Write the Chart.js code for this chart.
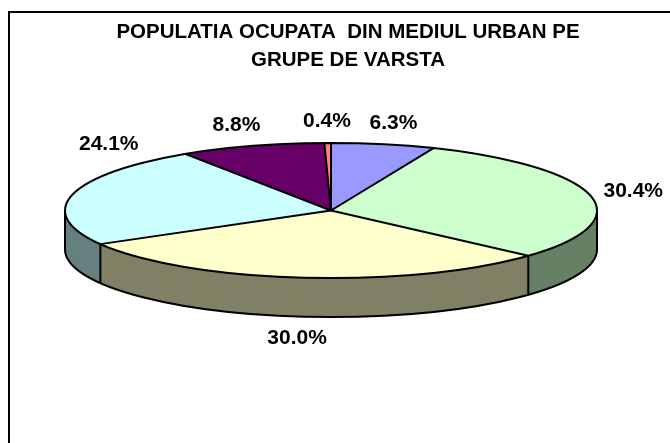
<!DOCTYPE html>
<html>
<head>
<meta charset="utf-8">
<script src="https://cdn.jsdelivr.net/npm/chart.js@4/dist/chart.umd.min.js"></script>
<style>
html,body{margin:0;padding:0;background:#fff;overflow:hidden}
#wrap{position:relative;width:670px;height:443px}
</style>
</head>
<body>
<div id="wrap"><canvas id="c" width="670" height="443"></canvas></div>
<script>
// ---- data ----
const categories = ['15-24 ani', '25-34 ani', '35-44 ani', '45-54 ani', '55-64 ani', '65 ani si peste'];
const shares = [6.3, 30.4, 30.0, 24.1, 8.8, 0.4];
const titleLines = ['POPULATIA OCUPATA  DIN MEDIUL URBAN PE', 'GRUPE DE VARSTA'];
const topColors = ['#9999FF', '#CCFFCC', '#FFFFCC', '#CCFFFF', '#660066', '#FF8080'];
const sideColors = ['#4D4D80', '#668066', '#808066', '#668080', '#330033', '#804040'];

// ---- layout (not data) ----
const GEO = { cx: 331, cy: 210.5, rx: 266, ry: 67.5, depth: 39 };
const LABEL = { font: 'bold 21px "Liberation Sans", Arial, sans-serif', a: 52, b: 22, half: 8, gap: 11, minX: 79, maxX: 663 };

function mapCtx(ctx, el, dy) {
  const k = GEO.ry / el.outerRadius;
  ctx.translate(GEO.cx, GEO.cy + dy);
  ctx.scale(1, k);
  ctx.translate(-el.x, -el.y);
}

const pie3d = {
  id: 'pie3d',
  beforeDraw(chart) {
    const c = chart.ctx;
    c.save();
    c.fillStyle = '#fff';
    c.fillRect(0, 0, chart.width, chart.height);
    c.lineWidth = 2;
    c.strokeStyle = '#000';
    c.strokeRect(9, 12, 900, 900);
    c.restore();
  },
  beforeDatasetsDraw(chart) {
    const ctx = chart.ctx;
    const els = chart.getDatasetMeta(0).data;
    const e0 = els[0];
    for (let d = GEO.depth; d >= 1; d--) {
      ctx.save();
      mapCtx(ctx, e0, d);
      els.forEach((el, i) => {
        const tmp = Object.create(el);
        tmp.options = Object.assign({}, el.options, { backgroundColor: sideColors[i], borderWidth: 0 });
        tmp.draw(ctx);
      });
      ctx.restore();
    }
    ctx.save();
    mapCtx(ctx, e0, 0);
  },
  afterDatasetsDraw(chart) {
    const ctx = chart.ctx;
    ctx.restore();
    const els = chart.getDatasetMeta(0).data;
    const rx = els[0].outerRadius, ry = GEO.ry, cx = GEO.cx, cy = GEO.cy, depth = GEO.depth;
    ctx.save();
    ctx.lineWidth = 2;
    ctx.strokeStyle = '#000';
    ctx.lineJoin = 'round';
    // side walls outline
    ctx.beginPath();
    ctx.moveTo(cx + rx, cy + depth);
    ctx.ellipse(cx, cy + depth, rx, ry, 0, 0, Math.PI);
    ctx.moveTo(cx + rx, cy); ctx.lineTo(cx + rx, cy + depth);
    ctx.moveTo(cx - rx, cy); ctx.lineTo(cx - rx, cy + depth);
    els.forEach(el => {
      const a = el.startAngle;
      if (Math.sin(a) > 0.02) {
        const x = cx + rx * Math.cos(a), y = cy + ry * Math.sin(a);
        ctx.moveTo(x, y); ctx.lineTo(x, y + depth);
      }
    });
    ctx.stroke();
    // top face outline
    ctx.beginPath();
    ctx.moveTo(cx + rx, cy);
    ctx.ellipse(cx, cy, rx, ry, 0, 0, Math.PI * 2);
    els.forEach(el => {
      const a = el.startAngle;
      ctx.moveTo(cx, cy);
      ctx.lineTo(cx + rx * Math.cos(a), cy + ry * Math.sin(a));
    });
    ctx.stroke();

    // labels
    ctx.font = LABEL.font;
    ctx.fillStyle = '#000';
    ctx.textAlign = 'center';
    ctx.textBaseline = 'middle';
    const overlaps = (x, y, w) => {
      const x0 = x - w / 2, x1 = x + w / 2, y0 = y - LABEL.half, y1 = y + LABEL.half;
      const xn = Math.min(Math.max(cx, x0), x1);
      const u = (xn - cx) / rx;
      if (Math.abs(u) >= 1) return false;
      const s = Math.sqrt(1 - u * u);
      const top = cy - ry * s - LABEL.gap, bot = cy + depth + ry * s + LABEL.gap;
      return y1 > top && y0 < bot;
    };
    els.forEach((el, i) => {
      const txt = shares[i].toFixed(1) + '%';
      const w = ctx.measureText(txt).width;
      const t = (el.startAngle + el.endAngle) / 2;
      let x = cx + (rx + LABEL.a) * Math.cos(t);
      let y = cy + (ry + LABEL.b) * Math.sin(t) + Math.max(0, Math.sin(t)) * depth;
      x = Math.min(Math.max(x, LABEL.minX + w / 2), LABEL.maxX - w / 2);
      const dir = Math.sin(t) < 0 ? -1 : 1; // push away from the pie vertically
      let n = 0;
      while (overlaps(x, y, w) && n < 300) { y += dir; n++; }
      ctx.fillText(txt, x, y);
    });
    ctx.restore();
  }
};

new Chart(document.getElementById('c'), {
  type: 'pie',
  data: {
    labels: categories,
    datasets: [{
      data: shares,
      backgroundColor: topColors,
      borderWidth: 0,
      clip: false
    }]
  },
  options: {
    responsive: false,
    animation: false,
    devicePixelRatio: 1,
    radius: GEO.rx,
    layout: { padding: { left: 26, top: 0, right: 0, bottom: 0 } },
    events: [],
    plugins: {
      legend: { display: false },
      tooltip: { enabled: false },
      title: {
        display: true,
        text: titleLines,
        color: '#000',
        font: { family: '"Liberation Sans", Arial, sans-serif', size: 20.5, weight: 'bold', lineHeight: 1.37 },
        padding: { top: 18, bottom: 10 }
      }
    }
  },
  plugins: [pie3d]
});
</script>
</body>
</html>
